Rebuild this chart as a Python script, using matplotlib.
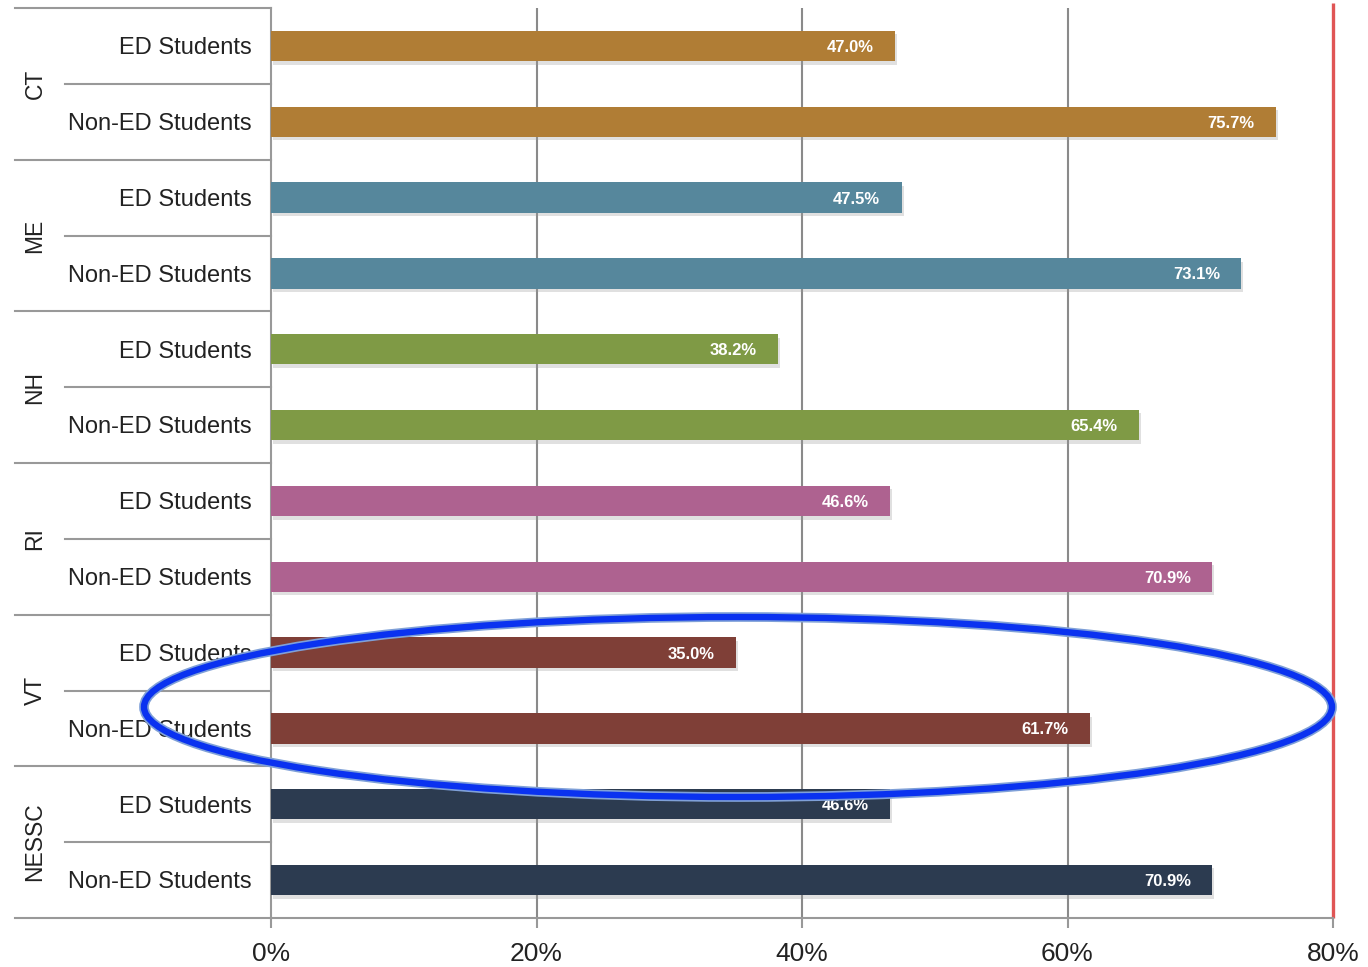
import matplotlib
matplotlib.use("Agg")
import matplotlib.pyplot as plt
import matplotlib.patheffects as pe
from matplotlib.patches import Ellipse
from matplotlib.lines import Line2D

plt.rcParams['font.family'] = ['Liberation Sans', 'DejaVu Sans']

groups = ["CT", "ME", "NH", "RI", "VT", "NESSC"]
subgroups = ["ED Students", "Non-ED Students"]
ed_values = [47.0, 47.5, 38.2, 46.6, 35.0, 46.6]
non_ed_values = [75.7, 73.1, 65.4, 70.9, 61.7, 70.9]
group_colors = ["#B07D35", "#56879C", "#7F9A45", "#AE6290", "#7F3F37", "#2C3B50"]
x_ticks = [0, 20, 40, 60, 80]
x_ticklabels = ["0%", "20%", "40%", "60%", "80%"]

W, H = 1368, 967
fig = plt.figure(figsize=(W / 100, H / 100), dpi=100)
ax = fig.add_axes([271 / W, 1 - 918 / H, (1333 - 271) / W, (918 - 8) / H])

values, colors, labels = [], [], []
for g, e, n, c in zip(groups, ed_values, non_ed_values, group_colors):
    values += [e, n]
    colors += [c, c]
    labels += subgroups
ypos = list(range(len(values)))

shadow = [pe.SimplePatchShadow(offset=(1.5, -2.5), shadow_rgbFace="#999999", alpha=0.3), pe.Normal()]
bars = ax.barh(ypos, values, height=0.4, color=colors, zorder=3, path_effects=shadow)

for y, v in zip(ypos, values):
    ax.text(v - 1.6, y + 0.02, f"{v:.1f}%", ha="right", va="center", color="white",
            fontsize=12, fontweight="bold", zorder=4)

ax.set_xlim(0, 80)
ax.set_ylim(len(values) - 0.5, -0.5)
ax.set_xticks(x_ticks)
ax.set_xticklabels(x_ticklabels, fontsize=19, color="#222222")
ax.tick_params(axis="x", length=7, color="#999999", width=1.5, pad=10)
ax.set_yticks([])

for x in x_ticks[1:4]:
    ax.axvline(x, color="#8a8a8a", lw=1.5, zorder=1)
ax.plot([80, 80], [len(values) - 0.5, -0.56], color="#E05555", lw=2.4, zorder=2,
        clip_on=False, solid_capstyle="butt")

for s in ["top", "right"]:
    ax.spines[s].set_visible(False)
ax.spines["left"].set_color("#999999")
ax.spines["left"].set_linewidth(1.5)
ax.spines["bottom"].set_color("#999999")
ax.spines["bottom"].set_linewidth(1.5)

# category table on the left
x_outer = (15 - 271) / (1333 - 271)
x_inner = (65 - 271) / (1333 - 271)
x_group = (35 - 271) / (1333 - 271)
x_label = (252 - 271) / (1333 - 271)
trans = ax.get_yaxis_transform()
for i, g in enumerate(groups):
    top = 2 * i - 0.5
    ax.add_line(Line2D([x_outer, 0], [top, top], transform=trans, color="#999999",
                       lw=1.5, clip_on=False))
    ax.add_line(Line2D([x_inner, 0], [top + 1, top + 1], transform=trans, color="#999999",
                       lw=1.5, clip_on=False))
    ax.text(x_group, 2 * i + 0.5, g, transform=trans, rotation=90, ha="center",
            va="center", fontsize=16.5, color="#222222")
ax.add_line(Line2D([x_outer, 0], [len(values) - 0.5] * 2, transform=trans,
                   color="#999999", lw=1.5, clip_on=False))
for y, lab in zip(ypos, labels):
    ax.text(x_label, y + 0.03, lab, transform=trans, ha="right", va="center",
            fontsize=17, color="#222222")

# highlight ellipse around VT
cx, cy, ew, eh = 738 / W, 1 - 707 / H, 1188 / W, 180 / H
fig.patches.append(Ellipse((cx, cy), ew, eh, transform=fig.transFigure, fill=False,
                           edgecolor="#7FA0D8", lw=7, zorder=10))
fig.patches.append(Ellipse((cx, cy), ew, eh, transform=fig.transFigure, fill=False,
                           edgecolor="#0A32F0", lw=4.6, zorder=11))

fig.savefig("out.png", dpi=100)
